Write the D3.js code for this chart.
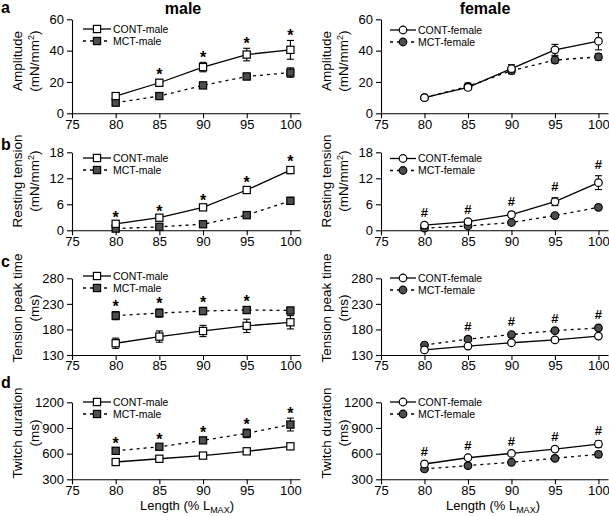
<!DOCTYPE html>
<html><head><meta charset="utf-8">
<script src="https://cdn.jsdelivr.net/npm/d3@7"></script>
<style>
body{margin:0;background:#fff}
svg{display:block}
text{font-family:"Liberation Sans",Arial,Helvetica,sans-serif;fill:#000}
</style>
</head><body>
<svg id="chart" width="609" height="516"></svg>
<script>
// ---------------- DATA ----------------
const lengths = [80, 85, 90, 95, 100];
const xTickValues = [75, 80, 85, 90, 95, 100];

const ampTicks = [0, 20, 40, 60];
const restTicks = [0, 6, 12, 18];
const peakTicks = [130, 180, 230, 280];
const twitchTicks = [300, 600, 900, 1200];

const maleNames = ["CONT-male", "MCT-male"];
const femaleNames = ["CONT-female", "MCT-female"];

// Amplitude (mN/mm2)
const ampContMale = [11, 19.5, 29.5, 37.5, 40.5];
const ampContMaleErr = [1.5, 2, 3, 4, 6];
const ampMctMale = [6.8, 11, 17.8, 23.5, 26];
const ampMctMaleErr = [1, 1, 1.5, 2, 3];
const ampContFemale = [10, 16.5, 28.5, 40.5, 46];
const ampContFemaleErr = [1, 1.5, 2.5, 3.5, 5.5];
const ampMctFemale = [10, 17.2, 27.2, 34, 36];
const ampMctFemaleErr = [1, 2, 2, 2, 2];
const ampMaleSig = [85, 90, 95, 100];
const ampFemaleSig = [];

// Resting tension (mN/mm2)
const restContMale = [1.5, 2.9, 5.3, 9.3, 13.9];
const restContMaleErr = [0.3, 0.4, 0.5, 0.6, 0.8];
const restMctMale = [0.4, 0.8, 1.4, 3.5, 6.8];
const restMctMaleErr = [0.2, 0.2, 0.3, 0.4, 0.8];
const restContFemale = [1.2, 2.0, 3.6, 6.6, 11];
const restContFemaleErr = [0.3, 0.4, 0.6, 0.9, 1.6];
const restMctFemale = [0.5, 1.0, 1.8, 3.4, 5.3];
const restMctFemaleErr = [0.2, 0.3, 0.4, 0.4, 0.4];
const restMaleSig = [80, 85, 90, 95, 100];
const restFemaleSig = [80, 85, 90, 95, 100];

// Tension peak time (ms)
const peakContMale = [153, 166, 177, 187, 194];
const peakContMaleErr = [10, 11, 11, 13, 13];
const peakMctMale = [207, 212, 216, 218, 217];
const peakMctMaleErr = [8, 8, 7, 6, 6];
const peakContFemale = [140, 147.5, 154, 159.5, 167];
const peakContFemaleErr = [3, 3, 3, 3, 4];
const peakMctFemale = [149.5, 161, 170, 177.5, 183];
const peakMctFemaleErr = [4, 4, 4, 3, 4];
const peakMaleSig = [80, 85, 90, 95];
const peakFemaleSig = [85, 90, 95, 100];

// Twitch duration (ms)
const twContMale = [502, 540, 577, 627, 685];
const twContMaleErr = [30, 20, 20, 20, 20];
const twMctMale = [633, 680, 755, 837, 940];
const twMctMaleErr = [25, 25, 30, 50, 75];
const twContFemale = [479, 552, 603, 653, 712];
const twContFemaleErr = [20, 15, 15, 15, 35];
const twMctFemale = [421, 460, 499, 545, 592];
const twMctFemaleErr = [20, 15, 20, 25, 30];
const twMaleSig = [80, 85, 90, 95, 100];
const twFemaleSig = [80, 85, 90, 95, 100];

// ---------------- LAYOUT ----------------
const svg = d3.select("#chart");
const cols = [
  {x0: 72, x1: 300, legX0: 83, legX1: 111, title: "male", titleX: 183, xlabX: 187, shape: "square", names: maleNames, sym: "*"},
  {x0: 381, x1: 608, legX0: 390, legX1: 416, title: "female", titleX: 485, xlabX: 493, shape: "circle", names: femaleNames, sym: "#"}
];
const rows = [
  {top: 19.3, bottom: 113.3, letter: "a", letterY: 13, labY: 61, lab1: "Amplitude", lab2: "mm", domain: [0, 60], ticks: ampTicks,
   leg: [[29, 41], [30, 42]],
   data: [[ampContMale, ampContMaleErr, ampMctMale, ampMctMaleErr, ampMaleSig],
          [ampContFemale, ampContFemaleErr, ampMctFemale, ampMctFemaleErr, ampFemaleSig]]},
  {top: 152.3, bottom: 230.3, letter: "b", letterY: 150, labY: 181, lab1: "Resting tension", lab2: "mm", domain: [0, 18], ticks: restTicks,
   leg: [[158, 170], [158.5, 170.5]],
   data: [[restContMale, restContMaleErr, restMctMale, restMctMaleErr, restMaleSig],
          [restContFemale, restContFemaleErr, restMctFemale, restMctFemaleErr, restFemaleSig]]},
  {top: 278.3, bottom: 355, letter: "c", letterY: 266.5, labY: 308, lab1: "Tension peak time", lab2: "ms", domain: [130, 280], ticks: peakTicks,
   leg: [[276, 288], [278, 290]],
   data: [[peakContMale, peakContMaleErr, peakMctMale, peakMctMaleErr, peakMaleSig],
          [peakContFemale, peakContFemaleErr, peakMctFemale, peakMctFemaleErr, peakFemaleSig]]},
  {top: 402.3, bottom: 479.3, letter: "d", letterY: 388, labY: 433, lab1: "Twitch duration", lab2: "ms", domain: [300, 1200], ticks: twitchTicks,
   leg: [[402, 414], [402, 414]],
   data: [[twContMale, twContMaleErr, twMctMale, twMctMaleErr, twMaleSig],
          [twContFemale, twContFemaleErr, twMctFemale, twMctFemaleErr, twFemaleSig]]}
];

const MCT_FILL = "#4e4e4e";

function drawMarker(g, shape, cx, cy, filled) {
  if (shape === "square") {
    g.append("rect").attr("x", cx - 3.6).attr("y", cy - 3.6).attr("width", 7.2).attr("height", 7.2)
      .attr("fill", filled ? MCT_FILL : "#fff").attr("stroke", "#000").attr("stroke-width", 1.2);
  } else {
    g.append("circle").attr("cx", cx).attr("cy", cy).attr("r", 3.8)
      .attr("fill", filled ? MCT_FILL : "#fff").attr("stroke", "#000").attr("stroke-width", 1.2);
  }
}

// titles
cols.forEach(c => {
  svg.append("text").attr("x", c.titleX).attr("y", 14).attr("text-anchor", "middle")
    .attr("font-size", 16).attr("font-weight", "bold").text(c.title);
});

rows.forEach((r, ri) => {
  svg.append("text").attr("x", 1).attr("y", r.letterY).attr("font-size", 16).attr("font-weight", "bold").text(r.letter);

  cols.forEach((c, ci) => {
    const x = d3.scaleLinear().domain([75, 101.1]).range([c.x0, c.x1]);
    const y = d3.scaleLinear().domain(r.domain).range([r.bottom, r.top]);
    const g = svg.append("g");
    const [cont, contErr, mct, mctErr, sig] = r.data[ci];

    // axes
    const xa = g.append("g").attr("transform", `translate(0,${r.bottom})`)
      .call(d3.axisBottom(x).tickValues(xTickValues).tickFormat(d3.format("d")).tickSize(5).tickSizeOuter(0).tickPadding(1));
    const ya = g.append("g").attr("transform", `translate(${c.x0},0)`)
      .call(d3.axisLeft(y).tickValues(r.ticks).tickFormat(d3.format("d")).tickSize(5).tickSizeOuter(0).tickPadding(3));
    [xa, ya].forEach(a => {
      a.selectAll("path,line").attr("stroke", "#000").attr("stroke-width", 1.1);
      a.selectAll("text").attr("font-size", 13).attr("fill", "#000")
        .attr("font-family", '"Liberation Sans",Arial,sans-serif');
    });

    // y label
    g.append("text").attr("transform", `translate(${c.x0 - 50},${r.labY}) rotate(-90)`)
      .attr("text-anchor", "middle").attr("font-size", 13.5).text(r.lab1);
    const l2 = g.append("text").attr("transform", `translate(${c.x0 - 33},${r.labY}) rotate(-90)`)
      .attr("text-anchor", "middle").attr("font-size", 13.5);
    if (r.lab2 === "mm") {
      l2.append("tspan").text("(mN/mm");
      l2.append("tspan").attr("font-size", 9).attr("dy", -5).text("2");
      l2.append("tspan").attr("dy", 5).text(")");
    } else {
      l2.text("(ms)");
    }

    // lines
    const line = d3.line().x((d, i) => x(lengths[i])).y(d => y(d));
    g.append("path").datum(mct).attr("d", line).attr("fill", "none").attr("stroke", "#000")
      .attr("stroke-width", 1.3).attr("stroke-dasharray", "3,4");
    g.append("path").datum(cont).attr("d", line).attr("fill", "none").attr("stroke", "#000")
      .attr("stroke-width", 1.3);

    // error bars
    [[cont, contErr], [mct, mctErr]].forEach(([vals, errs]) => {
      vals.forEach((v, i) => {
        const cx = x(lengths[i]), yt = y(v + errs[i]), yb = y(v - errs[i]);
        g.append("line").attr("x1", cx).attr("x2", cx).attr("y1", yt).attr("y2", yb).attr("stroke", "#000").attr("stroke-width", 1.1);
        [yt, yb].forEach(yy => g.append("line").attr("x1", cx - 3.5).attr("x2", cx + 3.5).attr("y1", yy).attr("y2", yy)
          .attr("stroke", "#000").attr("stroke-width", 1.1));
      });
    });

    // markers
    mct.forEach((v, i) => drawMarker(g, c.shape, x(lengths[i]), y(v), true));
    cont.forEach((v, i) => drawMarker(g, c.shape, x(lengths[i]), y(v), false));

    // significance
    sig.forEach(L => {
      const i = lengths.indexOf(L);
      const top = Math.min(y(cont[i] + contErr[i]), y(mct[i] + mctErr[i]));
      if (c.sym === "*") {
        g.append("text").attr("x", x(L)).attr("y", top + 0.5).attr("text-anchor", "middle")
          .attr("font-size", 16).attr("font-weight", "bold").text("*");
      } else {
        g.append("text").attr("x", x(L)).attr("y", top - 6.4).attr("text-anchor", "middle")
          .attr("font-size", 13).attr("font-weight", "bold").text("#");
      }
    });

    // legend
    [0, 1].forEach(k => {
      const ly = r.leg[ci][k];
      g.append("line").attr("x1", c.legX0).attr("x2", c.legX1).attr("y1", ly).attr("y2", ly)
        .attr("stroke", "#000").attr("stroke-width", 1.3).attr("stroke-dasharray", k === 1 ? "3,4" : null);
      drawMarker(g, c.shape, (c.legX0 + c.legX1) / 2, ly, k === 1);
      g.append("text").attr("x", c.legX1 + 2).attr("y", ly).attr("dy", "0.35em")
        .attr("font-size", 10.5).text(c.names[k]);
    });

    // x label on bottom row
    if (ri === rows.length - 1) {
      const t = svg.append("text").attr("x", c.xlabX).attr("y", 510).attr("text-anchor", "middle").attr("font-size", 13);
      t.append("tspan").text("Length (% L");
      t.append("tspan").attr("font-size", 9).attr("dy", 3).text("MAX");
      t.append("tspan").attr("dy", -3).text(")");
    }
  });
});
</script>
</body></html>
